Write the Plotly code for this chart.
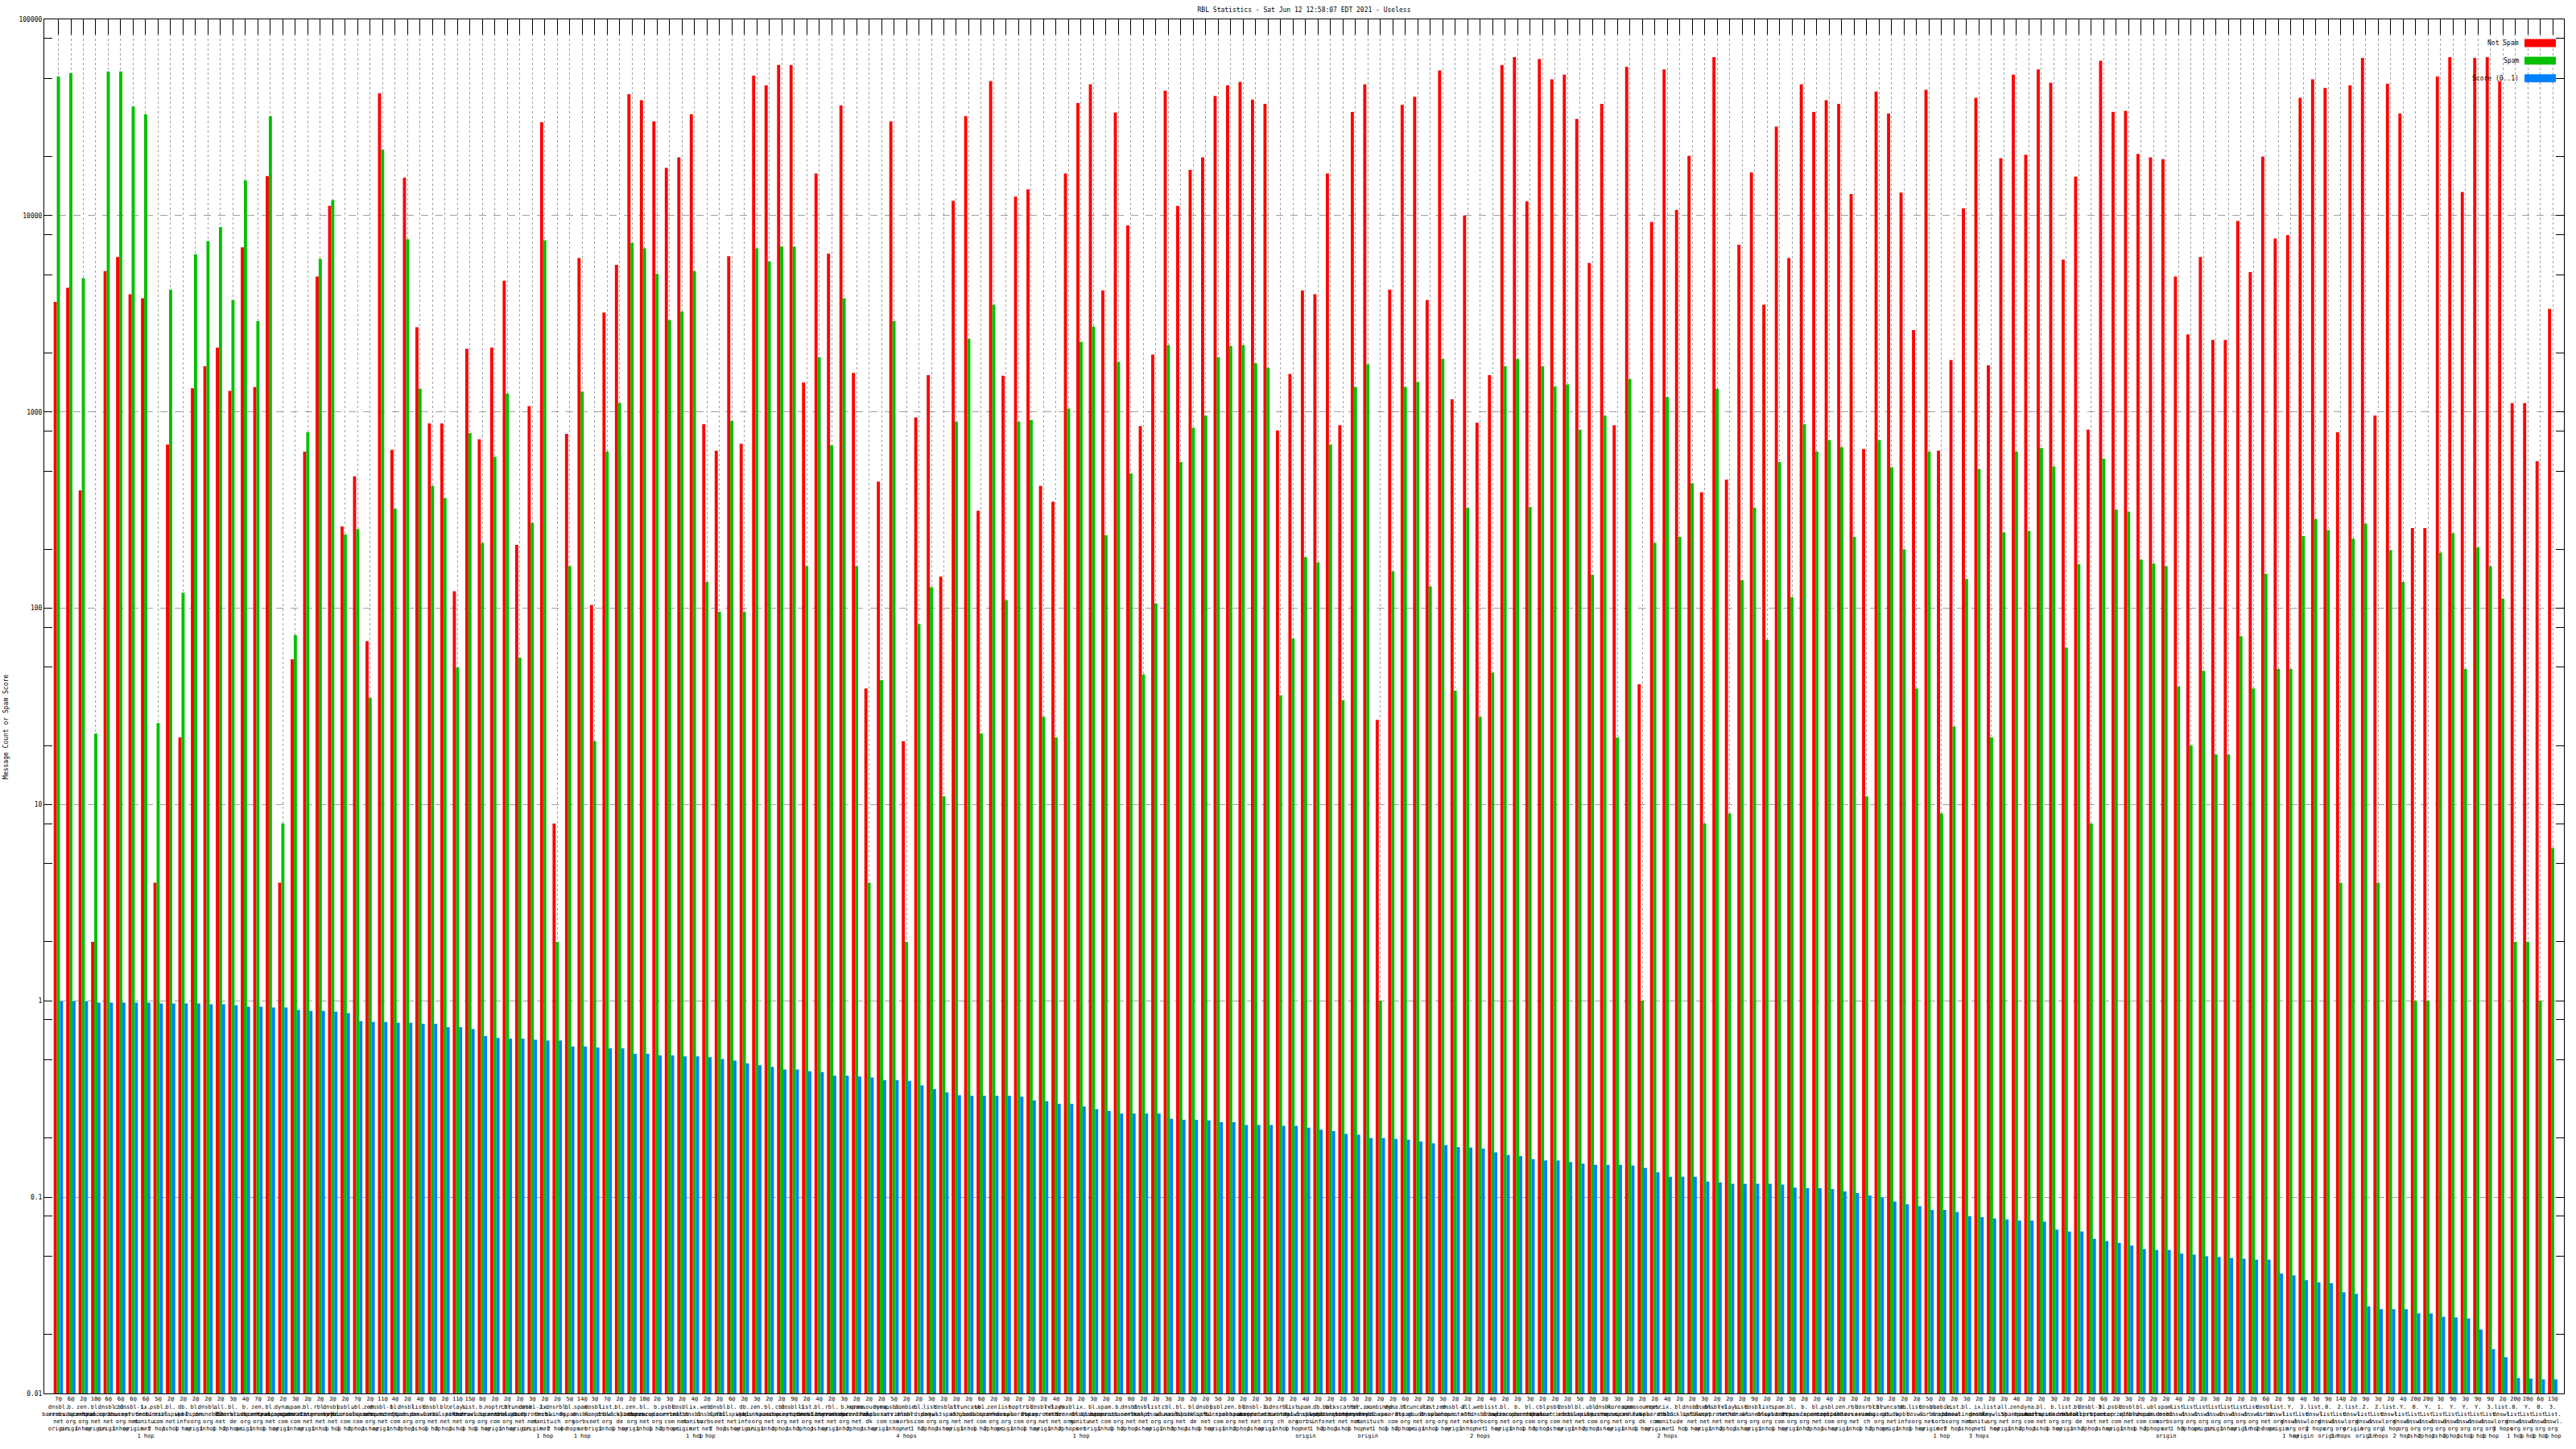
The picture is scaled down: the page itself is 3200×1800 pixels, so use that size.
import plotly.graph_objects as go

not_spam = [3640, 4290, 398, 2, 5220, 6150, 3980, 3790, 4, 682,
            22, 1320, 1710, 2130, 1280, 6890, 1340, 15900, 4, 55,
            628, 4900, 11200, 261, 470, 68, 42000, 641, 15600, 2700,
            874, 874, 122, 2100, 726, 2130, 4660, 210, 1070, 29900,
            8, 773, 6090, 104, 3210, 5610, 41600, 38700, 30200, 17500,
            19800, 32800, 865, 635, 6220, 689, 51600, 46100, 58500, 58500,
            1410, 16400, 6410, 36400, 1580, 39, 442, 30200, 21, 939,
            1540, 145, 11900, 32100, 314, 48500, 1530, 12500, 13600, 420,
            349, 16400, 37500, 46600, 4160, 33500, 8920, 847, 1960, 43300,
            11200, 17100, 19800, 40700, 46100, 48000, 39000, 37100, 805, 1560,
            4160, 3980, 16400, 856, 33800, 46600, 27, 4200, 36700, 40300,
            3710, 54900, 1160, 10000, 883, 1540, 58500, 64100, 11800, 62800,
            49500, 52200, 31100, 5730, 37100, 856, 57300, 41, 9290, 55500,
            10700, 20200, 390, 64100, 452, 7110, 16600, 3520, 28400, 6090,
            46600, 33800, 38700, 37100, 12900, 648, 42900, 33100, 13100, 2610,
            43800, 635, 1840, 10900, 39800, 1730, 19600, 52200, 20400, 55500,
            47500, 5970, 15800, 813, 61500, 33800, 34200, 20600, 19800, 19400,
            4900, 2480, 6150, 2330, 2330, 9390, 5160, 20000, 7650, 7970,
            39800, 49500, 44700, 788, 46100, 63500, 959, 47000, 33100, 256,
            256, 51100, 64100, 13200, 63500, 64100, 48500, 1110, 1110, 561,
            3350]

spam = [51100, 53200, 4800, 23, 54300, 54300, 36000, 32800, 26, 4200,
        120, 6350, 7420, 8740, 3710, 15100, 2900, 32100, 8, 73,
        788, 6030, 12000, 238, 253, 35, 21700, 321, 7570, 1310,
        420, 364, 50, 781, 215, 591, 1240, 56, 272, 7490,
        2, 164, 1270, 21, 628, 1110, 7260, 6820, 5060, 2930,
        3250, 5220, 136, 96, 900, 96, 6820, 5850, 6960, 6960,
        164, 1900, 675, 3790, 164, 4, 43, 2900, 2, 83,
        128, 11, 892, 2360, 23, 3520, 110, 892, 910, 28,
        22, 1040, 2280, 2720, 236, 1800, 485, 46, 106, 2190,
        555, 830, 959, 1900, 2170, 2190, 1770, 1680, 36, 70,
        182, 171, 682, 34, 1340, 1750, 1, 154, 1340, 1420,
        129, 1860, 38, 325, 28, 47, 1710, 1860, 328, 1710,
        1350, 1380, 813, 148, 959, 22, 1470, 1, 215, 1190,
        231, 433, 8, 1310, 9, 139, 325, 69, 555, 114,
        865, 628, 718, 662, 231, 11, 718, 522, 200, 39,
        628, 9, 25, 141, 511, 22, 243, 628, 248, 655,
        527, 63, 168, 8, 578, 318, 311, 177, 169, 164,
        40, 20, 48, 18, 18, 72, 39, 150, 49, 49,
        233, 284, 250, 4, 226, 270, 4, 198, 136, 1,
        1, 192, 241, 49, 204, 164, 112, 2, 2, 1,
        6]

score = [0.995, 0.995, 0.995, 0.98, 0.98, 0.98, 0.98, 0.98, 0.97, 0.97,
         0.97, 0.97, 0.96, 0.96, 0.95, 0.935, 0.935, 0.925, 0.925, 0.90,
         0.89, 0.89, 0.88, 0.866, 0.789, 0.781, 0.781, 0.773, 0.773, 0.765,
         0.765, 0.734, 0.734, 0.719, 0.662, 0.648, 0.642, 0.642, 0.635, 0.628,
         0.628, 0.585, 0.585, 0.579, 0.573, 0.573, 0.538, 0.538, 0.527, 0.527,
         0.522, 0.522, 0.516, 0.506, 0.496, 0.48, 0.47, 0.461, 0.447, 0.447,
         0.438, 0.434, 0.416, 0.416, 0.412, 0.407, 0.395, 0.395, 0.391, 0.371,
         0.356, 0.342, 0.331, 0.328, 0.328, 0.328, 0.328, 0.325, 0.311, 0.308,
         0.299, 0.299, 0.29, 0.281, 0.275, 0.267, 0.267, 0.267, 0.267, 0.251,
         0.248, 0.248, 0.246, 0.241, 0.241, 0.233, 0.233, 0.233, 0.231, 0.231,
         0.226, 0.221, 0.217, 0.21, 0.208, 0.2, 0.2, 0.198, 0.196, 0.192,
         0.188, 0.184, 0.18, 0.179, 0.177, 0.169, 0.164, 0.162, 0.156, 0.154,
         0.154, 0.151, 0.148, 0.146, 0.146, 0.146, 0.145, 0.141, 0.134, 0.127,
         0.127, 0.127, 0.12, 0.119, 0.117, 0.117, 0.117, 0.117, 0.116, 0.112,
         0.111, 0.111, 0.11, 0.107, 0.105, 0.102, 0.1, 0.095, 0.092, 0.09,
         0.086, 0.086, 0.084, 0.08, 0.079, 0.078, 0.077, 0.076, 0.076, 0.075,
         0.0683, 0.0669, 0.0669, 0.0615, 0.0597, 0.0585, 0.0567, 0.0544, 0.0538, 0.0538,
         0.0516, 0.051, 0.05, 0.0496, 0.049, 0.0486, 0.048, 0.048, 0.0408, 0.04,
         0.0378, 0.0368, 0.0365, 0.0328, 0.0322, 0.0278, 0.0269, 0.0269, 0.0269, 0.0256,
         0.0256, 0.0246, 0.0244, 0.0241, 0.0212, 0.0168, 0.0153, 0.012, 0.0119, 0.0118,
         0.0118]

label_counts = [7, 6, 2, 10, 6, 6, 6, 6, 5, 2,
                2, 2, 2, 2, 3, 4, 7, 2, 2, 3,
                2, 2, 2, 2, 7, 2, 11, 4, 2, 4,
                8, 2, 11, 15, 8, 2, 2, 2, 3, 2,
                2, 5, 14, 3, 7, 2, 2, 10, 2, 3,
                2, 4, 2, 2, 6, 2, 3, 2, 2, 9,
                2, 4, 2, 3, 2, 2, 2, 5, 2, 2,
                3, 2, 2, 2, 6, 2, 3, 2, 2, 2,
                4, 2, 2, 3, 2, 2, 8, 2, 2, 3,
                2, 2, 2, 5, 2, 2, 2, 3, 2, 2,
                4, 2, 2, 2, 3, 2, 2, 2, 6, 2,
                2, 3, 2, 2, 2, 4, 2, 2, 3, 2,
                2, 2, 5, 2, 2, 3, 2, 2, 2, 4,
                2, 2, 3, 2, 2, 2, 9, 2, 2, 3,
                2, 2, 4, 2, 2, 2, 3, 2, 2, 2,
                5, 2, 2, 3, 2, 2, 2, 4, 2, 2,
                3, 2, 2, 2, 6, 2, 3, 2, 2, 2,
                4, 2, 2, 3, 2, 2, 2, 6, 2, 9,
                4, 3, 9, 14, 2, 9, 3, 2, 4, 20,
                20, 3, 9, 3, 9, 9, 2, 20, 20, 6,
                13]

label_rbls = [
    "dnsbl.sorbs.net", "b.barracudacentral.org", "zen.spamhaus.org", "bl.spamcop.net", "dnsbl.sorbs.net",
    "cbl.abuseat.org", "dnsbl-1.uceprotect.net", "ix.dnsbl.manitu.net", "psbl.surriel.com", "bl.mailspike.net",
    "db.wpbl.info", "bl.0spam.org", "dnsbl.dronebl.org", "all.s5h.net", "bl.blocklist.de",
    "b.barracudacentral.org", "zen.spamhaus.org", "bl.spamcop.net", "dyna.spamrats.com", "spam.spamrats.com",
    "bl.spameatingmonkey.net", "rbl.interserver.net", "dnsbl.spfbl.net", "psbl.surriel.com", "ubl.unsubscore.com",
    "zen.spamhaus.org", "dnsbl-1.uceprotect.net", "bl.nordspam.com", "dnsbl.justspam.org", "list.dnswl.org",
    "dnsbl.sorbs.net", "bl.mailspike.net", "relays.nether.net", "list.dnswl.org", "b.barracudacentral.org",
    "noptr.spamrats.com", "cbl.abuseat.org", "truncate.gbudb.net", "dnsbl-2.uceprotect.net", "ix.dnsbl.manitu.net",
    "dnsrbl.swinog.ch", "bl.0spam.org", "spam.dnsbl.sorbs.net", "dnsbl.kempt.net", "list.dnswl.org",
    "bl.blocklist.de", "zen.spamhaus.org", "bl.spamcop.net", "b.barracudacentral.org", "psbl.surriel.com",
    "dnsbl.sorbs.net", "ix.dnsbl.manitu.net", "web.dnsbl.sorbs.net", "dnsbl.spfbl.net", "bl.mailspike.net",
    "db.wpbl.info", "zen.spamhaus.org", "bl.spamcop.net", "cbl.abuseat.org", "dnsbl-1.uceprotect.net",
    "list.dnswl.org", "bl.spameatingmonkey.net", "rbl.interserver.net", "b.barracudacentral.org", "korea.services.net",
    "spamsources.fabel.dk", "dyna.spamrats.com", "psbl.surriel.com", "zombie.dnsbl.sorbs.net", "bl.nordspam.com",
    "list.dnswl.org", "dnsbl.justspam.org", "all.s5h.net", "truncate.gbudb.net", "ubl.unsubscore.com",
    "zen.spamhaus.org", "list.dnswl.org", "noptr.spamrats.com", "bl.0spam.org", "dnsbl-3.uceprotect.net",
    "relays.nether.net", "dnsbl.dronebl.org", "ix.dnsbl.manitu.net", "bl.spamcop.net", "spam.spamrats.com",
    "b.barracudacentral.org", "dnsbl.sorbs.net", "dnsbl.kempt.net", "list.dnswl.org", "cbl.abuseat.org",
    "bl.mailspike.net", "bl.blocklist.de", "dnsbl.spfbl.net", "psbl.surriel.com", "zen.spamhaus.org",
    "bl.spamcop.net", "dnsbl-1.uceprotect.net", "b.barracudacentral.org", "dnsrbl.swinog.ch", "list.dnswl.org",
    "spam.dnsbl.sorbs.net", "db.wpbl.info", "bl.spameatingmonkey.net", "backscatter.spameatingmonkey.net", "rbl.interserver.net",
    "ix.dnsbl.manitu.net", "combined.abuse.ch", "dyna.spamrats.com", "bl.0spam.org", "truncate.gbudb.net",
    "list.dnswl.org", "zen.spamhaus.org", "dnsbl-2.uceprotect.net", "all.s5h.net", "web.dnsbl.sorbs.net",
    "list.dnswl.org", "bl.spamcop.net", "b.barracudacentral.org", "bl.nordspam.com", "cbl.abuseat.org",
    "psbl.surriel.com", "dnsbl.sorbs.net", "bl.mailspike.net", "ubl.unsubscore.com", "dnsbl.justspam.org",
    "korea.services.net", "zen.spamhaus.org", "spamsources.fabel.dk", "noptr.spamrats.com", "ix.dnsbl.manitu.net",
    "bl.blocklist.de", "dnsbl.spfbl.net", "dnsbl.kempt.net", "dnsbl-1.uceprotect.net", "relays.nether.net",
    "list.dnswl.org", "dnsbl.dronebl.org", "list.dnswl.org", "spam.spamrats.com", "bl.0spam.org",
    "b.barracudacentral.org", "bl.spamcop.net", "psbl.surriel.com", "zen.spamhaus.org", "rbl.interserver.net",
    "dnsrbl.swinog.ch", "cbl.abuseat.org", "truncate.gbudb.net", "db.wpbl.info", "list.dnswl.org",
    "dnsbl.sorbs.net", "zombie.dnsbl.sorbs.net", "list.dnswl.org", "bl.spameatingmonkey.net", "ix.dnsbl.manitu.net",
    "list.dnswl.org", "all.s5h.net", "zen.spamhaus.org", "dyna.spamrats.com", "bl.mailspike.net",
    "b.barracudacentral.org", "list.dnswl.org", "bl.blocklist.de", "dnsbl-3.uceprotect.net", "bl.spamcop.net",
    "psbl.surriel.com", "dnsbl.spfbl.net", "bl.nordspam.com", "ubl.unsubscore.com", "spam.dnsbl.sorbs.net",
    "list.dnswl.org", "list.dnswl.org", "list.dnswl.org", "list.dnswl.org", "list.dnswl.org",
    "list.dnswl.org", "list.dnswl.org", "dnsbl.sorbs.net", "list.dnswl.org", "Y.list.dnswl.org",
    "3.list.dnswl.org", "list.dnswl.org", "0.list.dnswl.org", "2.list.dnswl.org", "list.dnswl.org",
    "2.list.dnswl.org", "2.list.dnswl.org", "list.dnswl.org", "Y.list.dnswl.org", "0.list.dnswl.org",
    "Y.list.dnswl.org", "1.list.dnswl.org", "Y.list.dnswl.org", "Y.list.dnswl.org", "Y.list.dnswl.org",
    "3.list.dnswl.org", "list.dnswl.org", "0.list.dnswl.org", "Y.list.dnswl.org", "0.list.dnswl.org",
    "3.list.dnswl.org"]

label_hops = [
    "origin", "origin", "1 hop", "origin", "origin", "1 hop", "origin", "1 hop", "2 hops", "1 hop",
    "1 hop", "origin", "1 hop", "1 hop", "2 hops", "origin", "1 hop", "1 hop", "origin", "1 hop",
    "origin", "1 hop", "1 hop", "1 hop", "2 hops", "1 hop", "origin", "1 hop", "2 hops", "1 hop",
    "1 hop", "2 hops", "1 hop", "1 hop", "1 hop", "origin", "1 hop", "origin", "origin", "1 hop",
    "2 hops", "4 hops", "1 hop", "origin", "1 hop", "1 hop", "origin", "1 hop", "1 hop", "2 hops",
    "origin", "1 hop", "1 hop", "2 hops", "1 hop", "origin", "origin", "1 hop", "2 hops", "1 hop",
    "3 hops", "1 hop", "origin", "1 hop", "2 hops", "1 hop", "origin", "1 hop", "4 hops", "1 hop",
    "2 hops", "1 hop", "origin", "1 hop", "1 hop", "2 hops", "origin", "1 hop", "1 hop", "origin",
    "1 hop", "2 hops", "1 hop", "origin", "1 hop", "1 hop", "2 hops", "1 hop", "origin", "1 hop",
    "3 hops", "1 hop", "1 hop", "origin", "1 hop", "2 hops", "1 hop", "origin", "1 hop", "1 hop",
    "origin", "1 hop", "2 hops", "1 hop", "1 hop", "origin", "1 hop", "1 hop", "2 hops", "origin",
    "1 hop", "1 hop", "origin", "1 hop", "2 hops", "1 hop", "origin", "1 hop", "1 hop", "3 hops",
    "1 hop", "origin", "1 hop", "2 hops", "1 hop", "origin", "1 hop", "1 hop", "origin", "2 hops",
    "1 hop", "1 hop", "origin", "1 hop", "2 hops", "1 hop", "origin", "1 hop", "1 hop", "origin",
    "1 hop", "2 hops", "1 hop", "origin", "1 hop", "1 hop", "2 hops", "origin", "1 hop", "1 hop",
    "origin", "1 hop", "2 hops", "1 hop", "3 hops", "1 hop", "origin", "1 hop", "2 hops", "1 hop",
    "1 hop", "origin", "1 hop", "2 hops", "1 hop", "origin", "1 hop", "1 hop", "2 hops", "origin",
    "1 hop", "3 hops", "origin", "origin", "1 hop", "origin", "3 hops", "2 hops", "origin", "1 hop",
    "origin", "2 hops", "origin", "3 hops", "origin", "origin", "2 hops", "1 hop", "2 hops", "1 hop",
    "2 hops", "1 hop", "2 hops", "1 hop", "1 hop", "1 hop", "3 hops", "1 hop", "1 hop", "1 hop",
    "1 hop"]

legend_names = ["Not Spam", "Spam", "Score (0..1)"]
series_colors = ["#ff0000", "#00c000", "#0080ff"]
y_major = [0.01, 0.1, 1, 10, 100, 1000, 10000, 100000]
y_major_text = ["0.01", "0.1", "1", "10", "100", "1000", "10000", "100000"]
y_minor = [m * d for d in [0.01, 0.1, 1, 10, 100, 1000, 10000] for m in (2, 5, 8)]

FONT = "DejaVu Sans Mono"
n = len(not_spam)
xs = list(range(n))
ticktext = [f"{c}@<br>" + r.replace(".", ".<br>") + "<br>" + h
            for c, r, h in zip(label_counts, label_rbls, label_hops)]

fig = go.Figure()
for name, vals, col in zip(legend_names, [not_spam, spam, score], series_colors):
    # opacity just below 1 makes plotly snap bar edges to whole pixels (crisp, no colour blending)
    fig.add_trace(go.Bar(x=xs, y=vals, name=name,
                         marker=dict(color=col, opacity=0.999, line=dict(width=0)),
                         showlegend=False))

W, H = 3200, 1800
ML, MR, MT, MB = 55, 15, 24, 65
PW, PH = W - ML - MR, H - MT - MB

def px_x(p):
    return (p - ML) / PW

def px_y(p):
    return (H - MB - p) / PH

fig.update_layout(
    width=W, height=H,
    margin=dict(l=ML, r=MR, t=MT, b=MB, pad=0),
    paper_bgcolor="white", plot_bgcolor="white",
    barmode="group", bargap=0.25, bargroupgap=0,
    font=dict(family=FONT, size=8, color="black"),
    title=dict(text="RBL Statistics - Sat Jun 12 12:58:07 EDT 2021 - Useless",
               x=0.5, xref="paper", xanchor="center",
               y=1 - 12 / H, yref="container", yanchor="middle",
               font=dict(family=FONT, size=8, color="black")),
    xaxis=dict(range=[-1.13, n - 0.1], tickmode="array", tickvals=xs, ticktext=ticktext,
               tickangle=0, ticks="inside", ticklen=19, tickwidth=1, tickcolor="black",
               showline=True, linecolor="black", linewidth=1, mirror="ticks",
               showgrid=True, gridcolor="#a0a0a0", griddash="dot", gridwidth=1,
               zeroline=False, layer="below traces",
               tickfont=dict(family=FONT, size=7, color="black")),
    yaxis=dict(type="log", range=[-2, 5], tickmode="array", tickvals=y_major, ticktext=y_major_text,
               ticks="inside", ticklen=10, tickwidth=1, tickcolor="black",
               showline=True, linecolor="black", linewidth=1, mirror="allticks",
               showgrid=True, gridcolor="#a0a0a0", griddash="dash", gridwidth=1,
               zeroline=False, layer="below traces",
               minor=dict(tickmode="array", tickvals=y_minor, ticks="inside", ticklen=10,
                          tickwidth=1, tickcolor="black", showgrid=False),
               tickfont=dict(family=FONT, size=8, color="black")),
)

# y-axis title
fig.add_annotation(text="Message Count or Spam Score", textangle=-90,
                   x=px_x(8), y=px_y(905), xref="paper", yref="paper",
                   xanchor="center", yanchor="middle", showarrow=False,
                   font=dict(family=FONT, size=8, color="black"))

# legend (text left of swatch, as in the original)
rows_y = [53.5, 75.5, 97.5]
for name, col, ry in zip(legend_names, series_colors, rows_y):
    fig.add_annotation(text=name, x=px_x(3131), y=px_y(ry), xref="paper", yref="paper",
                       xanchor="right", yanchor="middle", showarrow=False,
                       font=dict(family=FONT, size=8, color="black"))
    fig.add_shape(type="rect", xref="paper", yref="paper",
                  x0=px_x(3136), x1=px_x(3175), y0=px_y(ry + 5), y1=px_y(ry - 5),
                  fillcolor=col, line=dict(width=0), layer="above")

fig.write_html("out.html", config={"displayModeBar": False},
               post_script="document.body.style.margin='0';document.body.style.overflow='hidden';")
